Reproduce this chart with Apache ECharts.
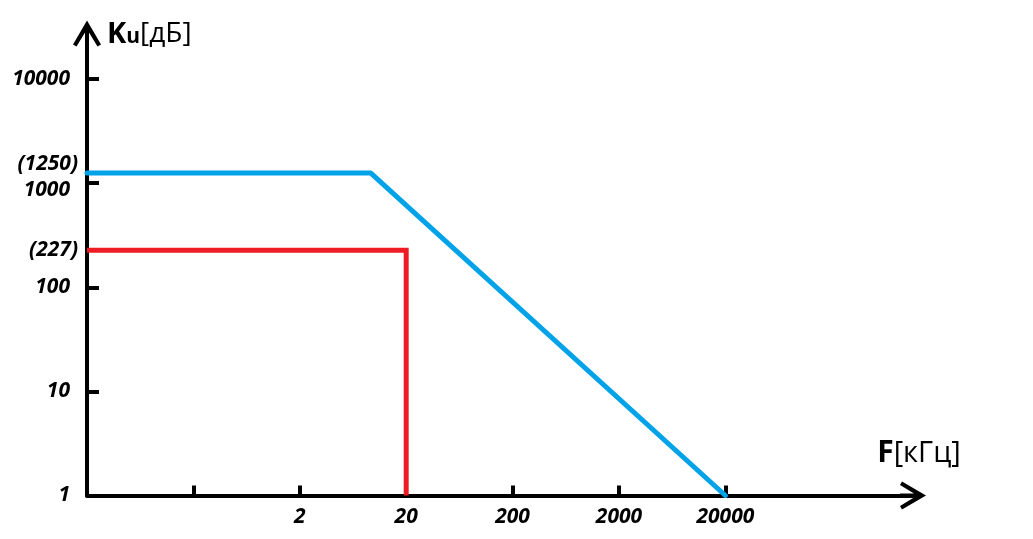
<!DOCTYPE html>
<html>
<head>
<meta charset="utf-8">
<script src="https://cdn.jsdelivr.net/npm/echarts@6/dist/echarts.min.js"></script>
<style>html,body{margin:0;padding:0;background:#fff}#c{width:1033px;height:539px}</style>
</head>
<body>
<div id="c"></div>
<script>
// ---- data ----
const xTickValues = [0.2, 2, 20, 200, 2000, 20000];
const xLabelValues = [2, 20, 200, 2000, 20000];
const yTickValues = [1, 10, 100, 1000, 10000];
const yLabelValues = [1, 10, 100, 227, 1000, 1250, 10000];
const markedValues = [227, 1250];
const blueFreq = [0.02, 9.3, 20000];
const blueGain = [1250, 1250, 1];
const redFreq = [0.02, 20, 20];
const redGain = [227, 227, 1];

const zip = (a, b) => a.map((v, i) => [v, b[i]]);
const arrow = 'path://M14,0 L28,24 L24.5,26 L16,12 L16,26 L12,26 L12,12 L3.5,26 L0,24 Z';
const labelFont = 'Open Sans';
const lblSize = 21;

const chart = echarts.init(document.getElementById('c'), null, {renderer: 'canvas'});
chart.setOption({
  backgroundColor: '#ffffff',
  animation: false,
  grid: {left: 87, right: 120, top: 33.5, bottom: 43.5, containLabel: false, outerBoundsMode: 'none'},
  xAxis: {
    type: 'log', logBase: 10, min: 0.02, max: 1160000,
    name: '{b|F}{r|[кГц]}', nameLocation: 'end', nameGap: 6,
    nameTextStyle: {
      align: 'center', verticalAlign: 'middle', padding: [0, 0, 84, 0],
      rich: {
        b: {fontFamily: labelFont, fontWeight: 'bold', fontSize: 30, color: '#000'},
        r: {fontFamily: labelFont, fontWeight: 'normal', fontSize: 29, color: '#000'}
      }
    },
    axisLine: {show: true, symbol: ['none', arrow], symbolSize: [28, 27], lineStyle: {color: '#000', width: 4}},
    axisTick: {show: true, inside: true, length: 10, lineStyle: {color: '#000', width: 4}, customValues: xTickValues},
    axisLabel: {
      show: true, margin: 11, customValues: xLabelValues,
      fontFamily: labelFont, fontWeight: 'bold', fontStyle: 'italic', fontSize: lblSize, color: '#000',
      formatter: v => String(v)
    },
    splitLine: {show: false}, minorTick: {show: false}
  },
  yAxis: {
    type: 'log', logBase: 10, min: 1, max: 27400,
    name: '{k|K}{u|u}{r|[дБ]}', nameLocation: 'end', nameGap: -1,
    nameTextStyle: {
      align: 'left', verticalAlign: 'middle', padding: [0, 0, 0, 20],
      rich: {
        k: {fontFamily: labelFont, fontWeight: 'bold', fontSize: 29, color: '#000'},
        u: {fontFamily: labelFont, fontWeight: 'bold', fontSize: 21, color: '#000', padding: [6, 0, 0, 0]},
        r: {fontFamily: labelFont, fontWeight: 'normal', fontSize: 28, color: '#000'}
      }
    },
    axisLine: {show: true, symbol: ['none', arrow], symbolSize: [28, 27], lineStyle: {color: '#000', width: 4}},
    axisTick: {show: true, inside: true, length: 12, lineStyle: {color: '#000', width: 4}, customValues: yTickValues},
    axisLabel: {
      show: true, margin: 9, customValues: yLabelValues,
      formatter: v => {
        if (v === 1250) return '{pu|(' + v + ')}';
        if (markedValues.indexOf(v) >= 0) return '{p|(' + v + ')}';
        if (v === 1000) return '{nd|' + v + '}';
        return '{n|' + v + '}';
      },
      rich: {
        p: {fontFamily: labelFont, fontWeight: 'bold', fontStyle: 'italic', fontSize: lblSize, color: '#000'},
        pu: {fontFamily: labelFont, fontWeight: 'bold', fontStyle: 'italic', fontSize: lblSize, color: '#000', padding: [0, 0, 18, 0]},
        n: {fontFamily: labelFont, fontWeight: 'bold', fontStyle: 'italic', fontSize: lblSize, color: '#000', padding: [0, 8, 0, 0]},
        nd: {fontFamily: labelFont, fontWeight: 'bold', fontStyle: 'italic', fontSize: lblSize, color: '#000', padding: [14, 8, 0, 0]}
      }
    },
    splitLine: {show: false}, minorTick: {show: false}
  },
  series: [
    {type: 'line', name: 'blue', data: zip(blueFreq, blueGain), symbol: 'none',
     lineStyle: {color: '#00a2e8', width: 5, cap: 'round', join: 'round'}, z: 3},
    {type: 'line', name: 'red', data: zip(redFreq, redGain), symbol: 'none',
     lineStyle: {color: '#ed1c24', width: 5, join: 'miter'}, z: 3}
  ]
});
</script>
</body>
</html>
